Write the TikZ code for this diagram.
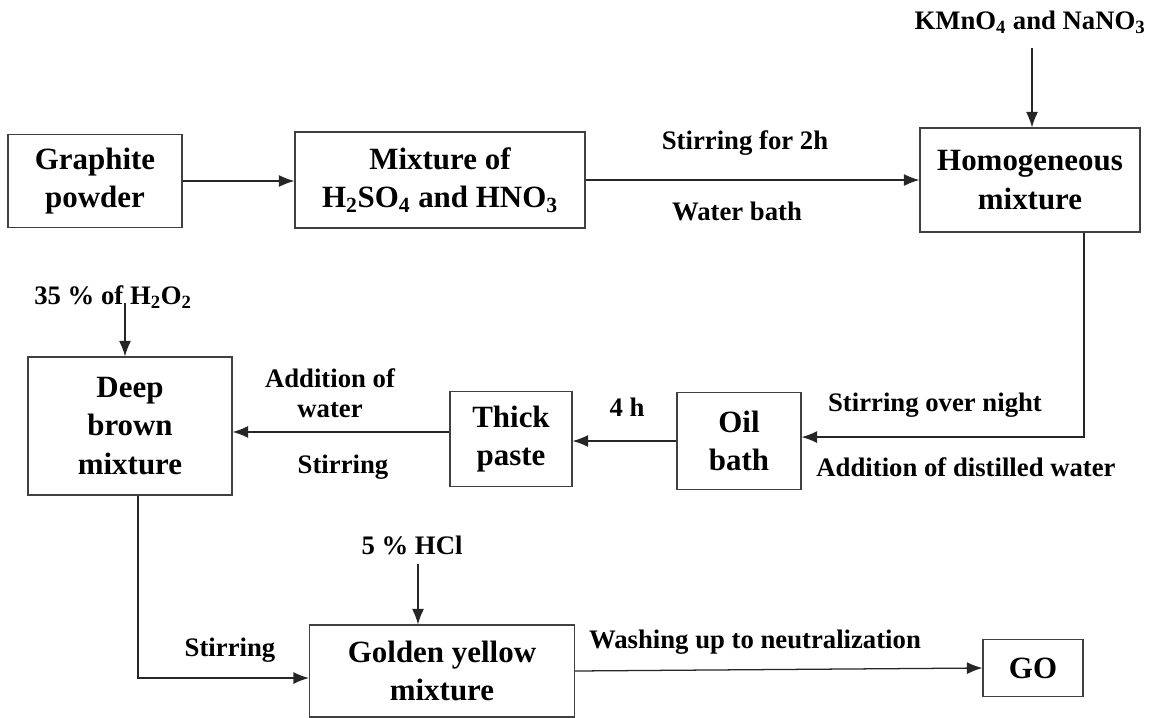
\documentclass[tikz,border=0pt]{standalone}
\usepackage{fontspec}
\setmainfont{Liberation Serif}
\usetikzlibrary{arrows.meta}

\tikzset{
  stepbox/.style={draw=black!75, line width=0.8pt, align=center, inner sep=0pt,
    font=\fontsize{22}{27.5}\selectfont\bfseries},
  lbl/.style={align=center, inner sep=1pt, font=\fontsize{19}{21.5}\selectfont\bfseries},
  arr/.style={draw=black!85, line width=0.9pt, -{Latex[length=11pt,width=8.5pt]}}
}

\begin{document}
\begin{tikzpicture}[x=0.025cm, y=-0.025cm]
  \useasboundingbox (0,0) rectangle (1160,718);

  % process steps
  \node (graphite) at (95,181) [stepbox, minimum width=4.35cm, minimum height=2.33cm] {Graphite\\powder};
  \node (mixture) at (440,180) [stepbox, minimum width=7.25cm, minimum height=2.4cm] {Mixture of\\H\textsubscript{2}SO\textsubscript{4} and HNO\textsubscript{3}};
  \node (homog) at (1030,180) [stepbox, minimum width=5.5cm, minimum height=2.6cm] {Homogeneous\\mixture};
  \node (oil) at (739,441) [stepbox, minimum width=3.1cm, minimum height=2.425cm] {Oil\\bath};
  \node (paste) at (511,439) [stepbox, minimum width=3.05cm, minimum height=2.375cm] {Thick\\paste};
  \node (brown) at (130,426) [stepbox, minimum width=5.1cm, minimum height=3.45cm] {Deep\\brown\\mixture};
  \node (golden) at (442,671) [stepbox, minimum width=6.625cm, minimum height=2.3cm] {Golden yellow\\mixture};
  \node (go) at (1033,668) [stepbox, minimum width=2.5cm, minimum height=1.425cm] {GO};

  % reagents
  \node (kmno) at (1030,22) [lbl] {KMnO\textsubscript{4} and NaNO\textsubscript{3}};
  \node (peroxide) at (113,297) [lbl] {35 \% of H\textsubscript{2}O\textsubscript{2}};
  \node (hcl) at (412,545) [lbl] {5 \% HCl};

  % conditions
  \node (stir2h) at (745,143) [lbl] {Stirring for 2h};
  \node (wbath) at (737,211) [lbl] {Water bath};
  \node (stirnight) at (935,405) [lbl] {Stirring over night};
  \node (distwater) at (966,467) [lbl] {Addition of distilled water};
  \node (fourh) at (627,407) [lbl] {4 h};
  \node (addwater) at (330,393) [lbl] {Addition of\\water};
  \node (stirpaste) at (343,467) [lbl] {Stirring};
  \node (stirbrown) at (230,650) [lbl] {Stirring};
  \node (washing) at (755,642) [lbl] {Washing up to neutralization};

  \draw[arr] (graphite.east) -- (graphite.east -| mixture.west);
  \draw[arr] (mixture.east) -- (homog.west);
  \draw[arr] (kmno.south -| 1032,0) ++(0,13) -- (homog.north -| 1032,0);
  \draw[arr] (homog.south -| 1084,0) |- ([yshift=2.8pt]oil.east);
  \draw[arr] (oil.west) -- (oil.west -| paste.east);
  \draw[arr] ([yshift=5pt]paste.west) -- ([yshift=5pt]paste.west -| brown.east);
  \draw[arr] (125,303) -- (brown.north -| 125,0);
  \draw[arr] (brown.south -| 138,0) |- ([yshift=-5pt]golden.west);
  \draw[arr] (hcl.south -| 418,0) ++(0,8) -- (golden.north -| 418,0);
  \draw[arr] (golden.east) -- (go.west);
\end{tikzpicture}
\end{document}
